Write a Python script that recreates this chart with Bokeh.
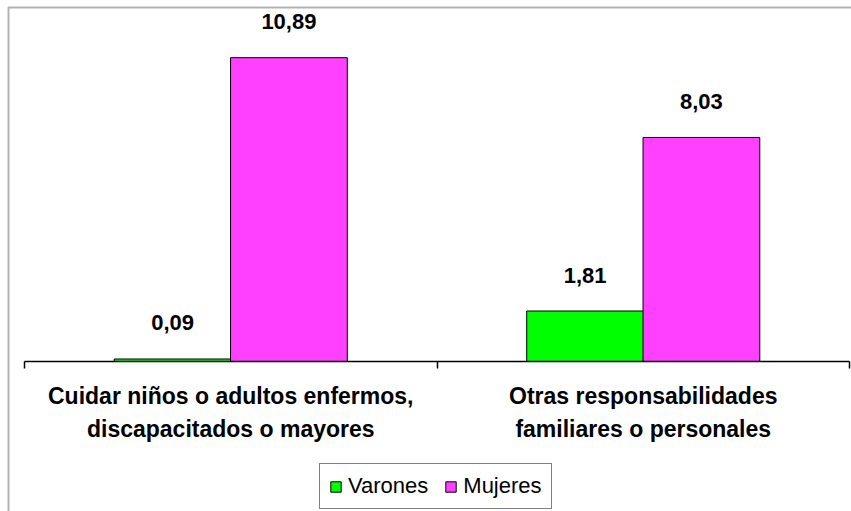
from bokeh.plotting import figure
from bokeh.models import (Range1d, FixedTicker, ColumnDataSource, LabelSet, Legend,
                          LegendItem, LinearAxis, BoxAnnotation)
from bokeh.core.properties import value
from bokeh.embed import file_html
from bokeh.resources import INLINE

categories = ["Cuidar niños o adultos enfermos,\ndiscapacitados o mayores",
              "Otras responsabilidades\nfamiliares o personales"]
series = ["Varones", "Mujeres"]
varones = [0.09, 1.81]
mujeres = [10.89, 8.03]
colors = ["#00FF00", "#FF40FF"]

def fmt(v):
    return f"{v:.2f}".replace(".", ",")

centers = [i + 0.5 for i in range(len(categories))]
dodge = 0.141
bar_w = 0.283

src_v = ColumnDataSource(dict(x=[c - dodge for c in centers], top=varones,
                              lab=[fmt(v) for v in varones]))
src_m = ColumnDataSource(dict(x=[c + dodge for c in centers], top=mujeres,
                              lab=[fmt(v) for v in mujeres]))

W, H = 851, 511
# frame covers the whole canvas; the category axis sits at y=0 (fixed location)
px_x = 412.5   # px per category
px_y = 27.9    # px per unit
x0, y0 = 24, 361
p = figure(width=W, height=H,
           x_range=Range1d(-x0 / px_x, (W - x0) / px_x),
           y_range=Range1d(-(H - y0) / px_y, y0 / px_y),
           output_backend="svg", toolbar_location=None,
           x_axis_location=None, y_axis_location=None,
           min_border_left=0, min_border_right=0, min_border_top=0, min_border_bottom=0)
p.outline_line_color = None
p.background_fill_color = "white"
p.border_fill_color = "white"
p.grid.visible = False

rv = p.vbar(x="x", top="top", bottom=0, width=bar_w, source=src_v, fill_color=colors[0],
            line_color="black", line_width=1)
rm = p.vbar(x="x", top="top", bottom=0, width=bar_w, source=src_m, fill_color=colors[1],
            line_color="black", line_width=1)

for src in (src_v, src_m):
    p.add_layout(LabelSet(x="x", y="top", text="lab", source=src, y_offset=36,
                          text_align="center", text_baseline="middle",
                          text_font=value("Liberation Sans"), text_font_style="bold",
                          text_font_size="22px", text_color="black"))

ax = LinearAxis(ticker=FixedTicker(ticks=centers, minor_ticks=[0, 1, 2]),
                fixed_location=0, bounds=(0, len(categories)))
ax.major_label_overrides = {c: lab for c, lab in zip(centers, categories)}
ax.major_tick_line_color = None
ax.major_tick_out = 0
ax.major_tick_in = 0
ax.minor_tick_line_color = "black"
ax.minor_tick_line_width = 1.5
ax.minor_tick_out = 7
ax.minor_tick_in = 0
ax.axis_line_color = "black"
ax.axis_line_width = 1.5
ax.major_label_text_font = "Liberation Sans"
ax.major_label_text_font_style = "bold"
ax.major_label_text_font_size = "23px"
ax.major_label_text_color = "black"
ax.major_label_text_line_height = 1.3
ax.major_label_standoff = 14
p.add_layout(ax, "below")

legend = Legend(items=[LegendItem(label=series[0], renderers=[rv]),
                       LegendItem(label=series[1], renderers=[rm])],
                orientation="horizontal", location=(319, 2),
                border_line_color="black", border_line_width=1.5,
                background_fill_color="white", background_fill_alpha=1,
                label_text_font="Liberation Sans", label_text_font_size="22px",
                label_text_color="black",
                glyph_width=13, glyph_height=13, label_standoff=6, spacing=16,
                padding=9, margin=0)
p.add_layout(legend, "center")

p.add_layout(BoxAnnotation(left=8, right=W + 3, top=7, bottom=H + 3,
                           left_units="canvas", right_units="canvas",
                           top_units="canvas", bottom_units="canvas",
                           fill_alpha=0, line_color="black", line_width=2))

open("out.html", "w").write(file_html(p, INLINE))
